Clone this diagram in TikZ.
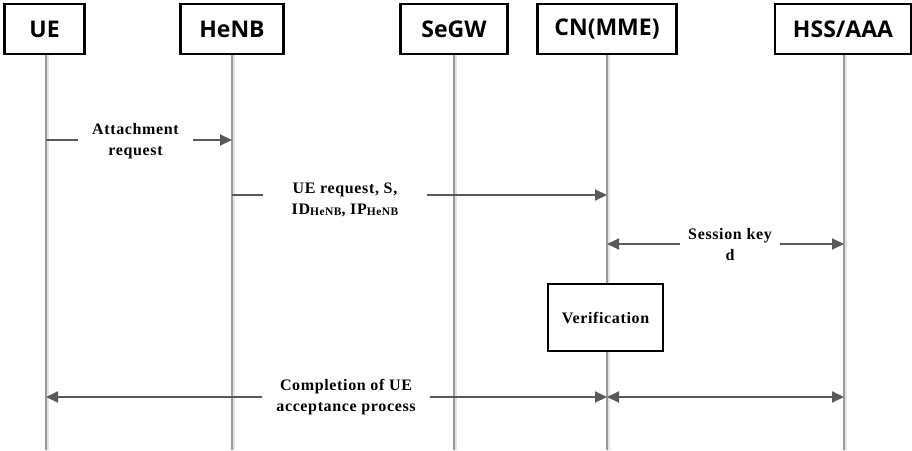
\documentclass[tikz,border=0pt]{standalone}
\usepackage{fontspec}
\setmainfont{Liberation Serif}[LetterSpace=4]
\newfontfamily\headfont{Open Sans}
\usetikzlibrary{arrows.meta}
\definecolor{msggray}{HTML}{595959}
\definecolor{linegray}{HTML}{9A9A9A}
\definecolor{shadegray}{HTML}{E4E4E4}
\newcommand{\sbs}[1]{\raisebox{-0.5pt}{\fontsize{11.5}{11.5}\selectfont #1}}
\begin{document}
\begin{tikzpicture}[x=1pt,y=-1pt,
  entity/.style={draw=black, fill=white, line width=2.2pt, minimum height=50pt,
    inner sep=0pt, font=\headfont\bfseries\fontsize{23}{26}\selectfont},
  lifeline/.style={draw=linegray, line width=1.3pt},
  lifeshade/.style={draw=shadegray, line width=2.5pt},
  msg/.style={draw=msggray, line width=2pt, -{Triangle[length=12pt,width=11pt]}},
  bimsg/.style={draw=msggray, line width=2pt, {Triangle[length=12pt,width=11pt]}-{Triangle[length=12pt,width=11pt]}},
  lbl/.style={fill=white, align=center, inner ysep=1pt,
    font=\bfseries\fontsize{16}{21}\selectfont},
  actbox/.style={draw=black, fill=white, line width=2.2pt, inner sep=0pt,
    font=\bfseries\fontsize{16}{21}\selectfont}
]
\useasboundingbox (0,0) rectangle (912,450);

% participants
\coordinate (bot) at (0,450);
\node[entity, minimum width=80pt]  (ue)   at (44.5,29)  {UE};
\node[entity, minimum width=103pt] (henb) at (232,29) {HeNB};
\node[entity, minimum width=107pt] (segw) at (454,29) {SeGW};
\node[entity, minimum width=139pt] (cn)   at (607,29) {CN(MME)};
\node[entity, minimum width=136pt] (hss)  at (843,29) {HSS/AAA};

% lifelines
\coordinate (uel) at (46,0);
\coordinate (hssl) at (844,0);
\foreach \p in {uel, henb, segw, cn, hssl} {
  \draw[lifeshade] ([xshift=1.6pt]\p |- ue.south) -- ([xshift=1.6pt]\p |- bot);
  \draw[lifeline]  (\p |- ue.south) -- (\p |- bot);
}
% redraw the boxes above the lifelines
\node[entity, minimum width=80pt]  at (ue)   {UE};
\node[entity, minimum width=103pt] at (henb) {HeNB};
\node[entity, minimum width=107pt] at (segw) {SeGW};
\node[entity, minimum width=139pt] at (cn)   {CN(MME)};
\node[entity, minimum width=136pt] at (hss)  {HSS/AAA};

\coordinate (y1) at (0,140);
\coordinate (y2) at (0,195);
\coordinate (y3) at (0,244);
\coordinate (y4) at (0,397);

% attachment request
\draw[msg] (uel |- y1) -- (henb |- y1);
\node[lbl, minimum width=115pt] (m1) at (135.5,141) {Attachment\\request};

% UE request to the core network
\draw[msg] (henb |- y2) -- (cn |- y2);
\node[lbl, minimum width=164pt] (m2) at (345,200) {UE request, S,\\ID\sbs{HeNB}, IP\sbs{HeNB}};

% session key exchange
\draw[bimsg] (cn |- y3) -- (hssl |- y3);
\node[lbl, minimum width=100pt] (m3) at (730,244.5) {Session key\\d};

% verification step
\node[actbox, minimum width=115pt, minimum height=67pt] (ver) at (605.5,317.5) {Verification};

% completion
\draw[bimsg] (uel |- y4) -- (cn |- y4);
\draw[bimsg] (cn |- y4) -- (hssl |- y4);
\node[lbl, minimum width=168pt] (m4) at (346,397) {Completion of UE\\acceptance process};
\end{tikzpicture}
\end{document}
